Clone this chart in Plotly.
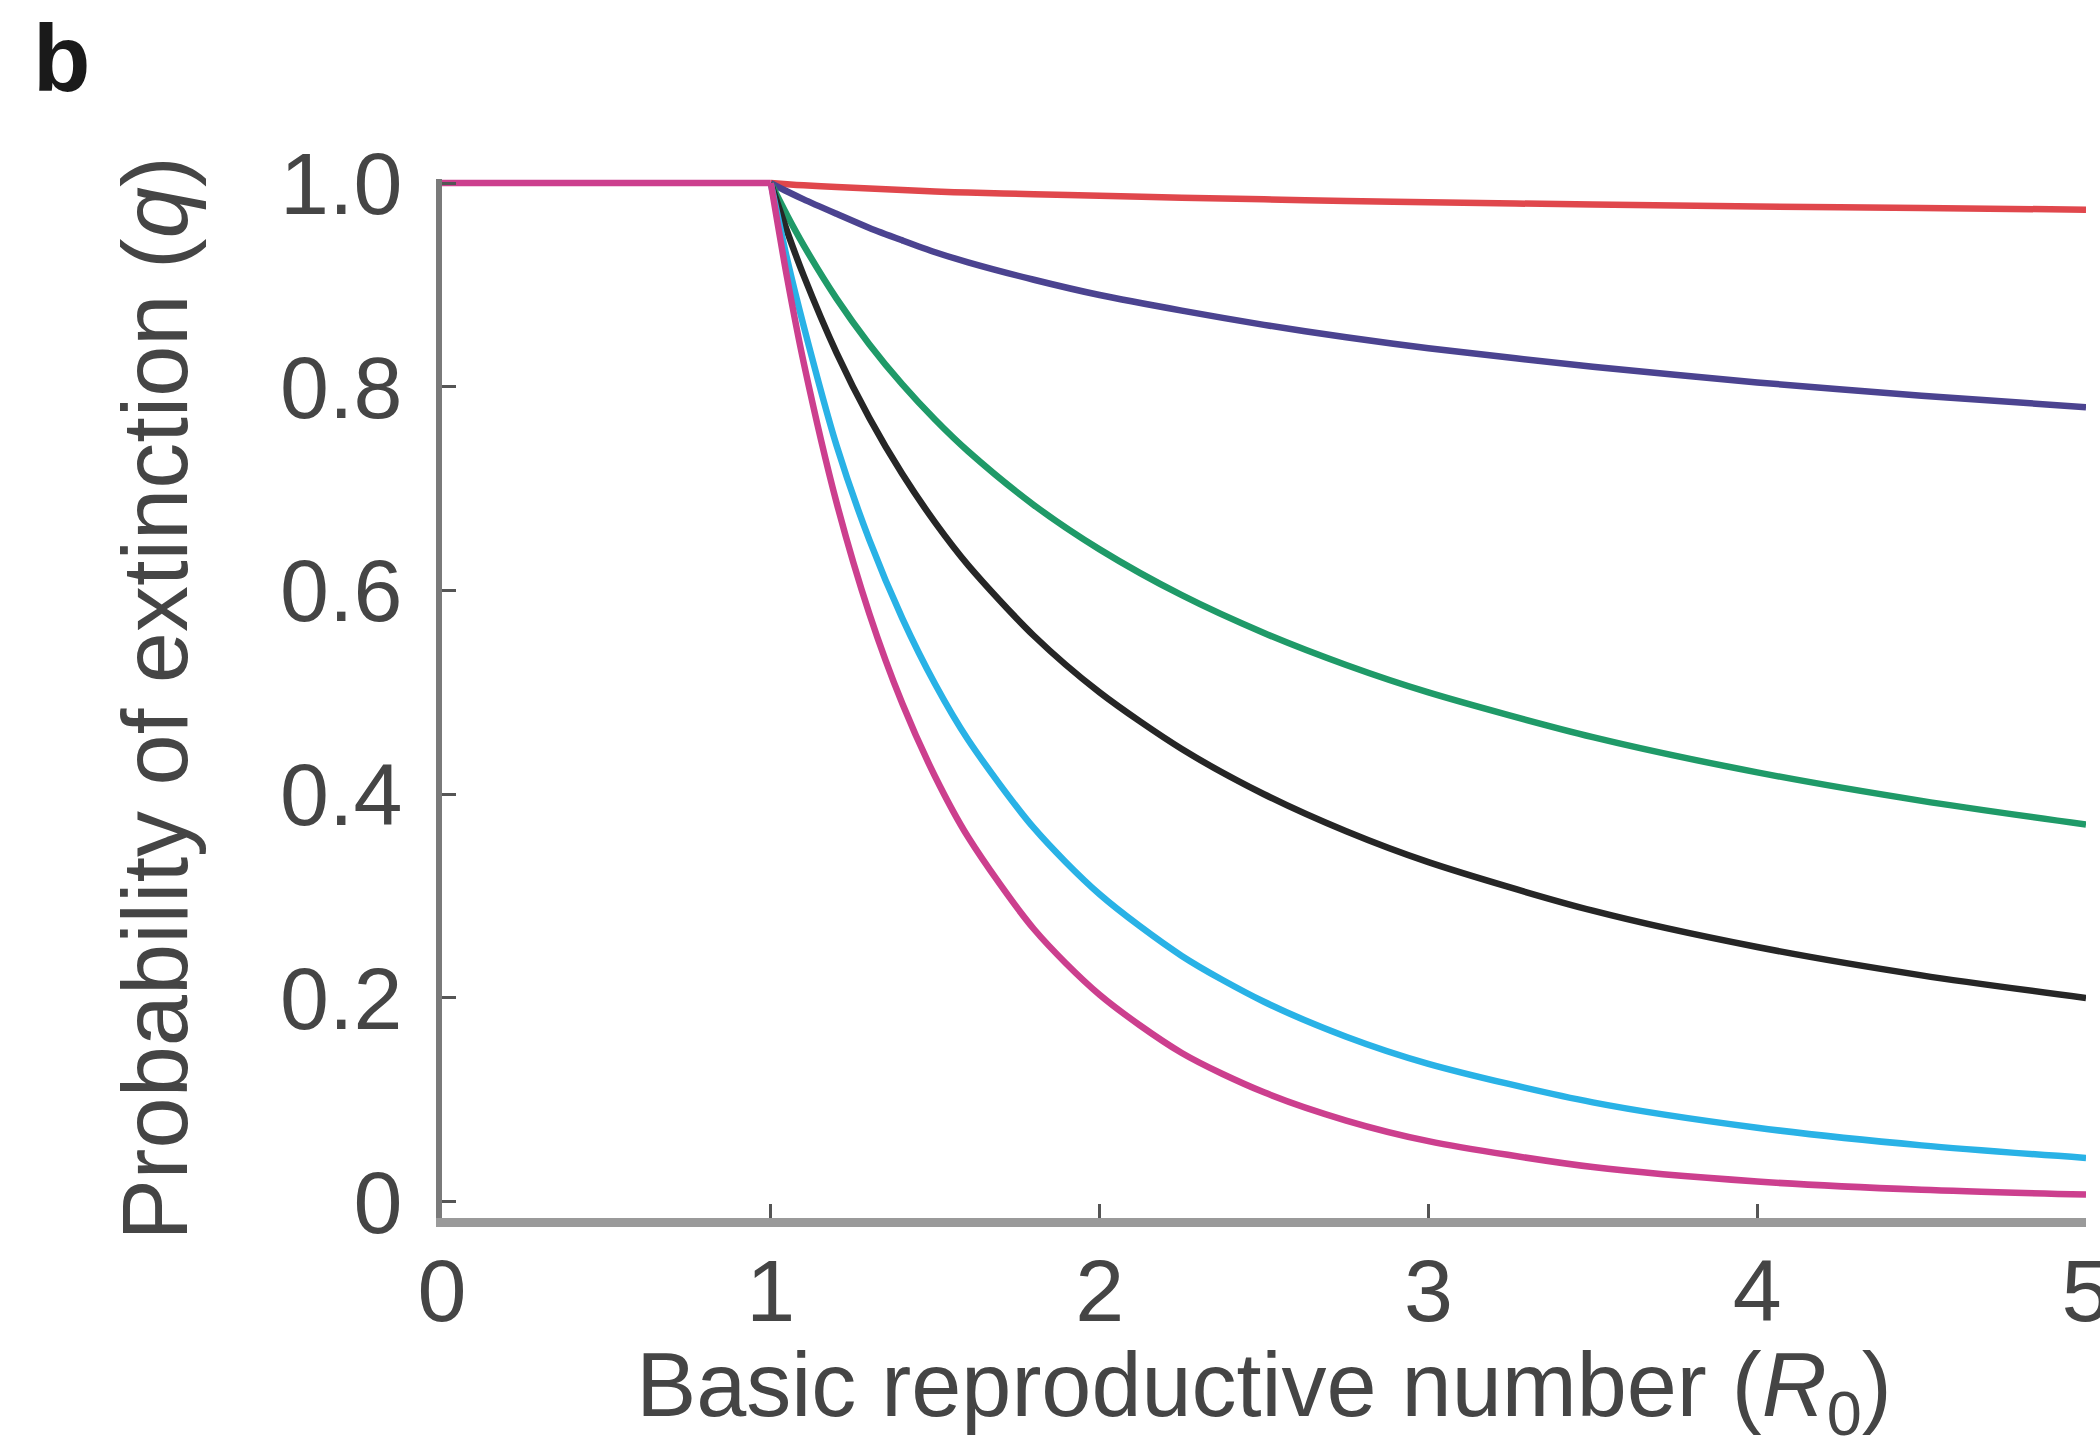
import plotly.graph_objects as go

# Subcritical part (R0 <= 1): extinction is certain for every curve
r0_sub = [0, 1]
q_sub = [1, 1]

# Supercritical part: basic reproductive number R0 (x values)
r0 = [1, 1.05, 1.1, 1.2, 1.3, 1.4, 1.5, 1.6, 1.8, 2, 2.25, 2.5, 2.75, 3, 3.5, 4, 4.5, 5]

# Probability of extinction q for each curve
q_red = [1, 0.9988, 0.9978, 0.9961, 0.9946, 0.9932, 0.9917, 0.9907, 0.9891, 0.9875, 0.9856, 0.984, 0.9825, 0.9811, 0.979, 0.977, 0.9755, 0.9739]
q_blue = [1, 0.9917, 0.984, 0.9698, 0.9559, 0.9437, 0.9321, 0.9222, 0.9051, 0.8901, 0.8748, 0.8608, 0.8486, 0.8379, 0.8197, 0.8043, 0.7912, 0.78]
q_green = [1, 0.9681, 0.9388, 0.8866, 0.8416, 0.8023, 0.7676, 0.7367, 0.6839, 0.6404, 0.5954, 0.5583, 0.5269, 0.5, 0.4561, 0.4215, 0.3935, 0.3702]
q_black = [1, 0.9524, 0.9091, 0.8333, 0.7692, 0.7143, 0.6667, 0.625, 0.5556, 0.5, 0.4444, 0.4, 0.3636, 0.3333, 0.2857, 0.25, 0.2222, 0.2]
q_cyan = [1, 0.925, 0.8597, 0.7423, 0.6495, 0.5727, 0.508, 0.4535, 0.3669, 0.3018, 0.2413, 0.1963, 0.162, 0.1354, 0.0975, 0.0726, 0.0553, 0.043]
q_magenta = [1, 0.9063, 0.8238, 0.6863, 0.577, 0.489, 0.4172, 0.358, 0.2677, 0.2032, 0.146, 0.1074, 0.0797, 0.0595, 0.034, 0.0198, 0.0117, 0.007]

x_ticks = [0, 1, 2, 3, 4, 5]
y_ticks = [0, 0.2, 0.4, 0.6, 0.8, 1.0]
y_tick_labels = ["0", "0.2", "0.4", "0.6", "0.8", "1.0"]

series = [
    ("k = 0.01", q_red, "#e0474c"),
    ("k = 0.1", q_blue, "#4b4390"),
    ("k = 0.5", q_green, "#1f9a68"),
    ("k = 1", q_black, "#262626"),
    ("k = 4", q_cyan, "#29b2e6"),
    ("k = ∞", q_magenta, "#cc3f8e"),
]

FONT = "Liberation Sans, Arial, Helvetica, sans-serif"
TXT = "#454545"
LW = 6.5

fig = go.Figure()
for name, ys, col in series:
    fig.add_trace(go.Scatter(x=r0, y=ys, mode="lines", name=name,
                             line=dict(color=col, width=LW, shape="spline", smoothing=0.8),
                             showlegend=False))
# flat segment for R0 < 1 (drawn on top, magenta as in the original)
fig.add_trace(go.Scatter(x=r0_sub, y=q_sub, mode="lines", name="R0 < 1",
                         line=dict(color="#cc3f8e", width=LW), showlegend=False))

fig.update_layout(
    width=2100, height=1448,
    margin=dict(l=442, r=14, t=179, b=230),
    paper_bgcolor="white", plot_bgcolor="white",
    font=dict(family=FONT, color=TXT),
    xaxis=dict(
        range=[0, 5], tickvals=x_ticks, ticks="inside", ticklen=14, tickwidth=3,
        tickcolor="#555555", showline=True, linecolor="#9a9a9a", linewidth=9,
        showgrid=False, zeroline=False, ticklabeloverflow="allow",
        automargin=False, ticklabelstandoff=-12,
        tickfont=dict(size=88, color=TXT, family=FONT),
        title=dict(text="Basic reproductive number (<i>R</i><sub>0</sub>)",
                   font=dict(size=90, color=TXT, family=FONT), standoff=46),
    ),
    yaxis=dict(
        range=[-0.016, 1.004], tickvals=y_ticks, ticktext=y_tick_labels,
        ticks="inside", ticklen=14, tickwidth=3, tickcolor="#555555",
        showline=True, linecolor="#7a7a7a", linewidth=6,
        showgrid=False, zeroline=False, ticklabelstandoff=16, automargin=False,
        tickfont=dict(size=88, color=TXT, family=FONT),
        title=dict(text="Probability of extinction (<i>q</i>)",
                   font=dict(size=92, color=TXT, family=FONT), standoff=64),
    ),
    annotations=[dict(text="<b>b</b>", xref="paper", yref="paper",
                      x=-0.25, y=1.168, xanchor="left", yanchor="top",
                      showarrow=False, font=dict(size=94, color="#1a1a1a", family=FONT))],
)

fig.write_html("out.html")
